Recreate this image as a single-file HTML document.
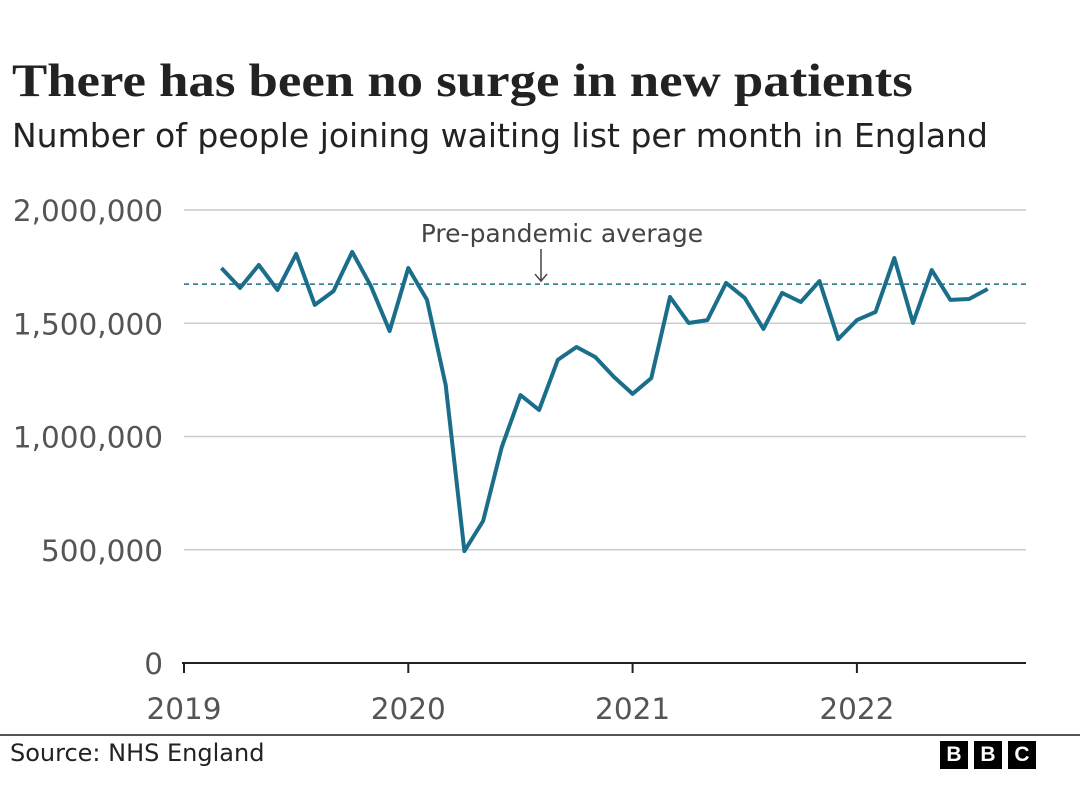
<!DOCTYPE html>
<html><head><meta charset="utf-8"><style>
body{margin:0;width:1080px;height:791px;background:#fff;font-family:"DejaVu Sans",sans-serif;overflow:hidden;position:relative}
.t{position:absolute;left:12px;top:54px;font-family:"Liberation Serif",serif;font-weight:bold;font-size:47px;color:#222;margin:0;white-space:nowrap;transform-origin:0 0;transform:scaleX(1.123)}
.s{position:absolute;left:12px;top:116px;font-size:33px;color:#222;white-space:nowrap}
svg{position:absolute;left:0;top:0}
.src{position:absolute;left:10px;top:739px;font-size:24px;color:#222}
.bbc{position:absolute;top:741px;display:flex;gap:6px;left:940px}
.bbc span{width:28px;height:28px;background:#000;color:#fff;font-weight:bold;font-size:21px;display:flex;align-items:center;justify-content:center;font-family:"Liberation Sans",sans-serif}
</style></head><body>
<h1 class="t">There has been no surge in new patients</h1>
<div class="s">Number of people joining waiting list per month in England</div>
<svg id="c" width="1080" height="791"></svg>
<div style="position:absolute;left:0;top:734px;width:1080px;height:2px;background:#555"></div>
<div class="src">Source: NHS England</div>
<div class="bbc"><span>B</span><span>B</span><span>C</span></div>
<script>
const values=[1744,1656,1757,1647,1806,1581,1642,1815,1664,1466,1744,1603,1227,494,627,954,1183,1117,1338,1395,1351,1263,1188,1258,1616,1501,1514,1678,1611,1475,1634,1594,1686,1430,1514,1550,1788,1501,1735,1603,1607,1651].map(v=>v*1000);
const startMonth=2; // March 2019 (months since Jan 2019)
const yTicks=[0,500000,1000000,1500000,2000000];
const yLabels=["0","500,000","1,000,000","1,500,000","2,000,000"];
const xYears=[2019,2020,2021,2022];
const avg=1673000;
const NS="http://www.w3.org/2000/svg",svg=document.getElementById('c');
const y=v=>663-v/2000000*453, x=m=>184+m*224.3/12;
function el(t,a,txt){const e=document.createElementNS(NS,t);for(const k in a)e.setAttribute(k,a[k]);if(txt!=null)e.textContent=txt;svg.appendChild(e);return e;}
yTicks.forEach((t,i)=>{
 if(t>0){const g=el('line',{x1:184,x2:1026,y1:y(t),y2:y(t),stroke:'#ccc','stroke-width':1.5});
 
 }
 const l=el('text',{x:163,y:y(t)+11,'text-anchor':'end','font-size':29.5,fill:'#555','font-family':'DejaVu Sans'},yLabels[i]);
 
 
});
const ax=el('line',{x1:182,x2:1026,y1:663,y2:663,stroke:'#222','stroke-width':2});


xYears.forEach(yr=>{const m=(yr-2019)*12;
 const tk=el('line',{x1:x(m),x2:x(m),y1:663,y2:673,stroke:'#222','stroke-width':2});
 
 
 const l=el('text',{x:x(m),y:719,'text-anchor':'middle','font-size':29.5,fill:'#555','font-family':'DejaVu Sans'},yr);
 
 
});
const al=el('line',{x1:184,x2:1026,y1:y(avg),y2:y(avg),stroke:'#1a6e8a','stroke-width':1.5,'stroke-dasharray':'5,4'});


const at=el('text',{x:562,y:242,'text-anchor':'middle','font-size':25,fill:'#444','font-family':'DejaVu Sans'},'Pre-pandemic average');


const ar=el('path',{d:`M541 249 V${y(avg)-3} M535 ${y(avg)-10} L541 ${y(avg)-3} L547 ${y(avg)-10}`,stroke:'#444','stroke-width':1.5,fill:'none'});


const d=values.map((v,i)=>(i?'L':'M')+x(startMonth+i).toFixed(1)+' '+y(v).toFixed(1)).join(' ');
const p=el('path',{d,stroke:'#1a6e8a','stroke-width':4,fill:'none','stroke-linejoin':'round'});


</script>
</body></html>
